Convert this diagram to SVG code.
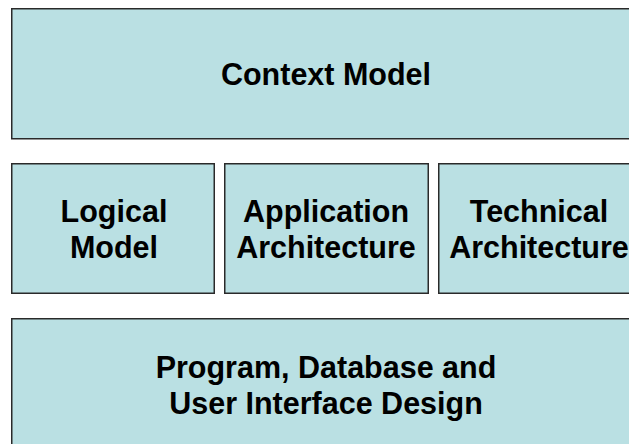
<svg xmlns="http://www.w3.org/2000/svg" width="629" height="444" viewBox="0 0 629 444">
  <style>
    .box { fill: #bae0e3; stroke: #2a2a2a; stroke-width: 1.5; }
    .label { font-family: "Liberation Sans", Arial, sans-serif; font-weight: bold; font-size: 30.5px; fill: #000; text-anchor: middle; }
  </style>
  <rect width="629" height="444" fill="#ffffff"/>

  <g id="context-model">
    <rect class="box" x="11.75" y="8.75" width="640" height="130"/>
    <text class="label" x="326" y="85">Context Model</text>
  </g>

  <g id="logical-model">
    <rect class="box" x="11.75" y="163.75" width="202.5" height="129.5"/>
    <text class="label" x="114" y="222">Logical</text>
    <text class="label" x="114" y="258">Model</text>
  </g>

  <g id="application-architecture">
    <rect class="box" x="224.75" y="163.75" width="203.5" height="129.5"/>
    <text class="label" x="326" y="222">Application</text>
    <text class="label" x="326" y="258">Architecture</text>
  </g>

  <g id="technical-architecture">
    <rect class="box" x="438.75" y="163.75" width="210" height="129.5"/>
    <text class="label" x="539" y="222">Technical</text>
    <text class="label" x="539" y="258">Architecture</text>
  </g>

  <g id="design">
    <rect class="box" x="11.75" y="318.75" width="640" height="140"/>
    <text class="label" x="326" y="378">Program, Database and</text>
    <text class="label" x="326" y="414">User Interface Design</text>
  </g>

  <g id="connectors"/>
</svg>
